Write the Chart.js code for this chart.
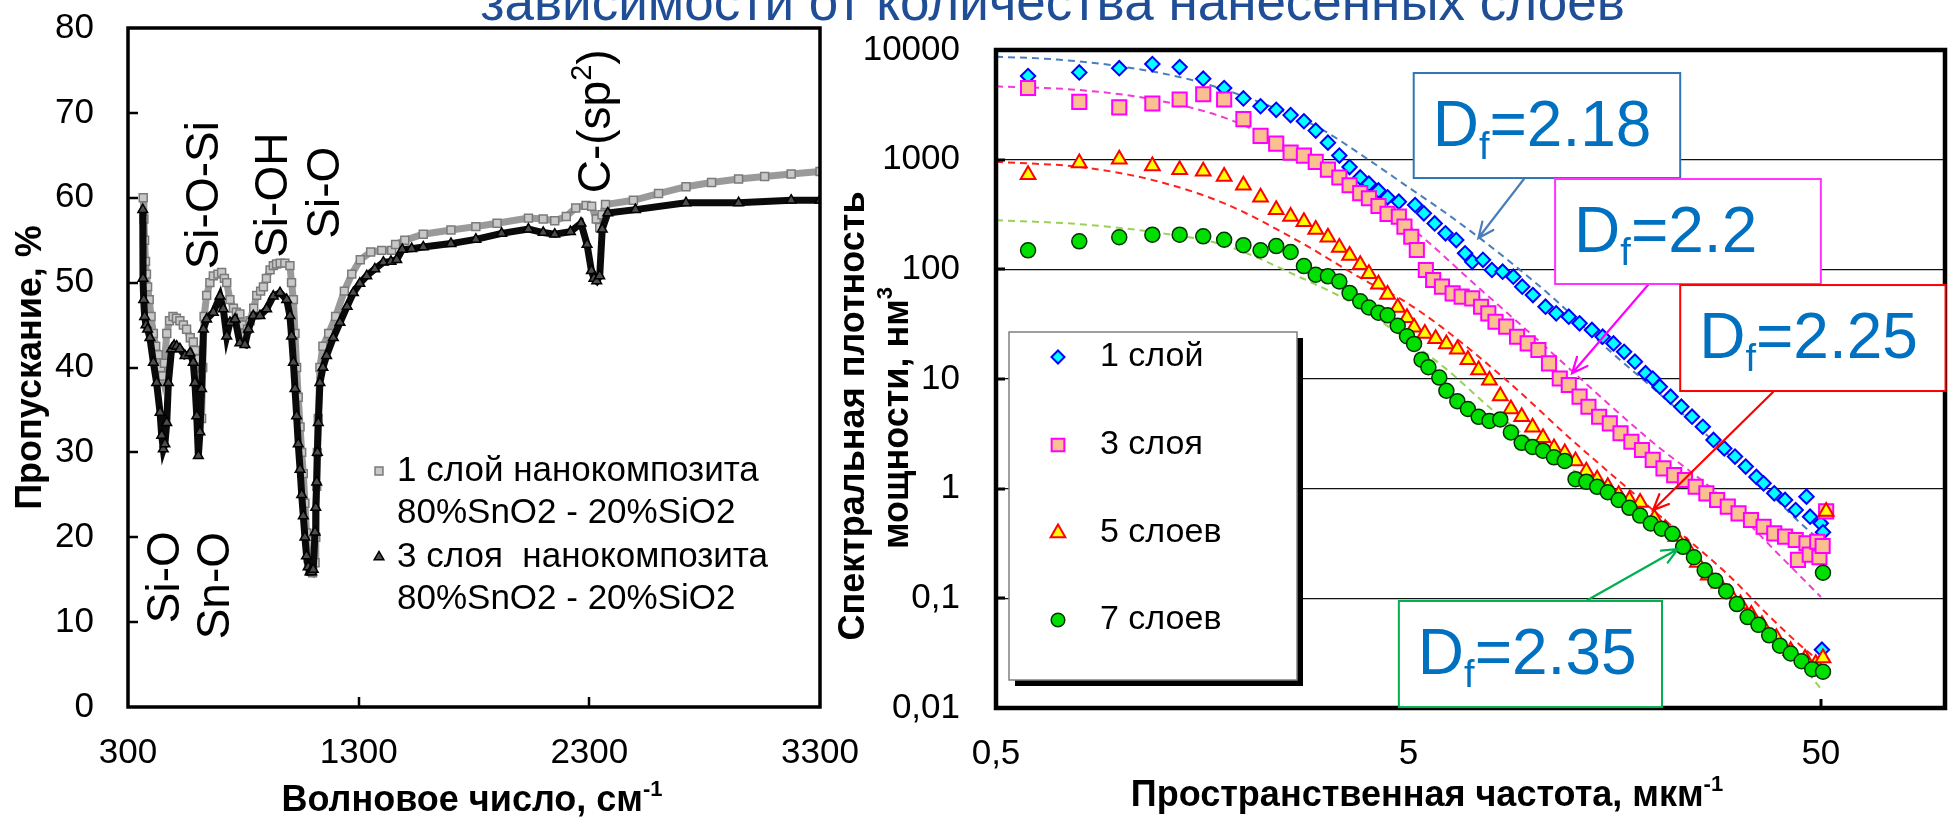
<!DOCTYPE html>
<html lang="ru"><head><meta charset="utf-8">
<title>ИК-спектры и СПМ</title>
<script src="https://cdn.jsdelivr.net/npm/chart.js"></script>
<style>
  html,body{margin:0;padding:0;background:#fff;}
  body{width:1957px;height:818px;position:relative;overflow:hidden;font-family:"Liberation Sans",Arial,sans-serif;}
  canvas{position:absolute;left:0;top:0;}
  #pageTitle{position:absolute;left:0;top:-25px;width:2105px;text-align:center;font-size:53px;line-height:53px;color:#1f4e96;white-space:nowrap;}
</style></head>
<body>
<div id="pageTitle">зависимости от количества нанесенных слоев</div>
<canvas id="ftir" width="1957" height="818"></canvas>
<canvas id="psd" width="1957" height="818"></canvas>
<script>
const FONT = '"Liberation Sans", Arial, sans-serif';

// ---------- left chart: FTIR transmission ----------
const ftirSeriesNames = ['1 слой нанокомпозита', '3 слоя  нанокомпозита'];
const ftirSeriesSub = '80%SnO2 - 20%SiO2';
const ftirXTicks = [300, 1300, 2300, 3300];

const ftirWn1 = [366,369,372,376,380,385,392,400,410,420,431,442,450,458,468,480,495,510,525,540,554,570,583,592,598,605,612,619,624,630,641,655,670,690,706,718,728,742,757,770,785,800,807,818,829,845,858,875,887,900,916,930,944,960,980,1002,1009,1017,1024,1031,1038,1046,1053,1060,1067,1074,1081,1089,1100,1111,1114,1118,1121,1125,1132,1145,1170,1200,1238,1270,1307,1352,1400,1443,1460,1500,1580,1700,1808,1900,2036,2100,2150,2200,2241,2286,2310,2330,2345,2355,2370,2491,2600,2719,2830,2947,3060,3175,3300];
const ftirT1 = [60,57.5,55,52.5,51,49.5,48,46,44,42.5,41.5,40,39,40.5,44,45.5,46,45.8,45.5,45,44.5,43.5,43,42,41,39,37,34,40,46,48.5,50,50.8,51,51.2,50.5,50,48,47,46.5,46.3,45,44,44.5,45.5,47,48.5,49,49.5,50.5,51.5,52,52.2,52.3,52.3,52,50,48,44,40,36.5,33,30,27.5,24,20.5,17.5,16,15.8,17,20,26,30,34,40,42.5,44,46,49,51,52.7,53.6,53.8,53.8,54.5,55,55.7,56.2,56.6,57,57.6,57.5,57.3,57.8,58.8,59.1,59,57.5,56.5,58,59.2,59.7,60.5,61.3,61.8,62.2,62.5,62.8,63.1];

const ftirWn3 = [364,365,368,372,378,385,395,410,424,439,446,453,460,468,475,489,500,511,525,547,569,583,590,598,605,612,619,627,641,670,699,713,728,742,764,785,807,822,843,872,901,930,959,988,1002,1009,1017,1024,1031,1038,1046,1053,1060,1067,1074,1081,1089,1096,1103,1111,1114,1118,1121,1125,1132,1145,1161,1190,1219,1250,1277,1305,1335,1370,1407,1440,1465,1489,1530,1580,1700,1808,1920,2036,2100,2150,2218,2264,2290,2309,2320,2332,2345,2356,2380,2500,2719,2947,3175,3300];
const ftirT3 = [58.6,50.5,48,46,45,44.5,43.5,40.6,38.2,34.7,32,30.4,31,33.5,38.2,42.2,42.6,42.5,42.2,41.4,41.7,40.6,38.2,34.3,29.6,32.4,37.5,44.5,45.7,46.5,48.4,46.9,43.7,45.3,45.7,42.9,42.7,44.5,46.1,46.1,46.9,48.4,48.8,48,46.1,43.7,40.6,37.5,34.3,31,28,25,22.5,20,17.8,16.5,15.9,15.9,16.2,20.6,23.5,26.5,30,33.5,38.2,40,41.4,43.5,45.3,47.2,48.8,49.9,50.8,51.6,52.4,52.5,52.7,53.9,54,54.2,54.6,55.1,55.8,56.3,55.9,55.7,56,57,54.5,51.4,50.5,50.2,50.8,56.3,58.2,58.6,59.4,59.4,59.7,59.7];

// ---------- right chart: power spectral density ----------
const psdNames = ['1 слой', '3 слоя', '5 слоев', '7 слоев'];
const psdYTickValues = [0.01, 0.1, 1, 10, 100, 1000, 10000];
const psdYTickLabels = ['0,01', '0,1', '1', '10', '100', '1000', '10000'];
const psdXTickValues = [0.5, 5, 50];
const psdXTickLabels = ['0,5', '5', '50'];
const dfValues = ['2.18', '2.2', '2.25', '2.35'];

const psdF1 = [0.598,0.796,0.995,1.197,1.394,1.59,1.787,1.99,2.19,2.39,2.59,2.79,2.98,3.19,3.40,3.60,3.82,4.01,4.23,4.45,4.74,5.19,5.45,5.79,6.15,6.53,6.86,7.14,7.58,7.97,8.46,8.98,9.44,10.02,10.75,11.41,12.24,13.0,13.93,14.79,15.71,16.67,17.71,18.79,19.56,20.35,21.61,22.95,24.36,25.87,27.46,29.16,30.96,32.87,34.89,36.32,38.55,40.94,43.45,46.15,47.09,49.97,50.6,50.3];
const psdP1 = [5790,6250,6820,7450,6980,5480,4500,3620,3070,2850,2550,2240,1840,1430,1090,856,688,604,524,454,414,386,324,262,213,185,140,117,122,98.6,95.1,85.7,69.5,58.3,45.6,39.7,37.0,32.2,28.0,24.3,21.1,17.7,14.4,11.3,10.1,8.51,6.90,5.59,4.53,3.67,2.78,2.33,1.96,1.59,1.28,1.12,0.908,0.789,0.639,0.846,0.555,0.483,0.40,0.034];

const psdF3 = [0.598,0.796,0.995,1.197,1.394,1.59,1.787,1.99,2.19,2.39,2.59,2.79,2.98,3.19,3.40,3.60,3.82,4.01,4.23,4.45,4.74,4.89,5.08,5.24,5.51,5.74,6.03,6.40,6.73,7.14,7.50,7.81,8.13,8.63,9.17,9.73,10.33,10.96,11.64,12.24,13.0,13.66,14.50,15.39,16.34,17.36,18.42,19.56,20.77,22.05,23.41,24.86,26.39,28.02,29.74,31.58,33.85,36.32,38.55,40.94,43.45,44.0,46.15,47.0,49.0,49.6,50.5,51.5];
const psdP3 = [4500,3360,3000,3250,3540,3950,3540,2340,1650,1400,1160,1090,955,811,688,584,496,445,378,320,302,245,198,150,98.6,80,69.5,60.4,56.3,54.4,45.6,39.7,33.3,30.0,24.3,21.1,18.4,13.9,10.1,8.81,6.90,5.59,4.53,3.94,3.20,2.68,2.25,1.83,1.53,1.33,1.20,1.04,0.907,0.789,0.686,0.596,0.518,0.450,0.391,0.365,0.340,0.224,0.318,0.25,0.328,0.237,0.30,0.62];

const psdF5 = [0.598,0.796,0.995,1.197,1.394,1.59,1.787,1.99,2.19,2.39,2.59,2.79,2.98,3.19,3.40,3.60,3.82,4.01,4.23,4.45,4.71,4.96,5.16,5.48,5.82,6.18,6.57,6.97,7.40,7.86,8.35,8.86,9.41,10.0,10.6,11.27,11.97,12.71,13.5,14.34,15.22,16.17,17.17,18.23,19.75,20.97,22.27,23.65,25.1,26.67,28.31,30.07,31.93,33.91,36.0,39.0,42.25,45.8,48.6,50.6,51.5];
const psdP5 = [727,934,1009,875,811,785,704,584,454,350,303,272,231,196,158,134,110,91.2,73.3,58.9,44.9,36.1,29.6,26.0,23.3,20.9,18.7,15.0,12.1,9.72,7.00,5.33,4.52,3.64,2.92,2.35,2.11,1.79,1.44,1.22,1.04,0.879,0.788,0.746,0.538,0.432,0.367,0.295,0.212,0.162,0.137,0.110,0.0887,0.0713,0.0573,0.0436,0.0332,0.0282,0.0253,0.0286,0.62];

const psdF7 = [0.598,0.796,0.995,1.197,1.394,1.59,1.787,1.99,2.19,2.39,2.59,2.79,2.98,3.19,3.40,3.60,3.82,4.01,4.23,4.45,4.71,4.96,5.16,5.38,5.59,5.94,6.18,6.57,6.97,7.40,7.86,8.35,8.86,9.41,10.0,10.6,11.27,11.97,12.71,13.5,14.34,15.22,16.17,17.17,18.23,19.35,20.55,21.83,23.18,24.62,26.14,27.75,29.47,31.29,33.22,35.29,37.47,39.8,42.25,44.9,47.66,50.6,50.6];
const psdP7 = [149,180,196,207,207,200,186,166,149,163,144,107,89.3,86.4,77.4,60.9,51.1,44.9,40.2,38.1,30.6,24.6,20.9,15.0,12.8,10.3,7.81,6.28,5.33,4.52,4.15,4.28,3.26,2.62,2.40,2.22,1.93,1.79,1.22,1.155,1.04,0.928,0.788,0.669,0.568,0.482,0.432,0.388,0.295,0.237,0.180,0.145,0.116,0.0887,0.0675,0.0573,0.046,0.037,0.0314,0.0267,0.0226,0.0214,0.171];

// dashed model curves
const fitF1 = [0.5,0.7,1.0,1.5,2.2,3.0,4.0,5.0,6.0,7.35,9.0,11.4,14.5,19.2,25.9,34.9,46.2,50];
const fitP1 = [8700,8200,7100,5300,3300,2000,1000,560,350,200,110,52,22,8.8,3.3,1.2,0.43,0.34];
const fitF3 = [0.5,0.8,1.2,1.79,2.67,3.98,5.0,7.5,10,12.5,19.2,28.6,40,50];
const fitP3 = [4660,4310,3540,2415,1190,445,250,65,25,11.7,2.8,0.85,0.24,0.103];
const fitF5 = [0.5,0.8,1.2,1.79,2.67,3.98,4.74,6,8.63,12.3,19.2,30,37.3,44,50];
const fitP5 = [955,856,651,399,186,77,55,30,9.8,2.9,0.68,0.16,0.07,0.039,0.026];
const fitF7 = [0.5,0.8,1.2,1.79,2.67,3.7,4.86,6.15,8,10,13,17,22,30,40,45,50];
const fitP7 = [281,258,219,166,88,48,24,12.5,5.2,2.7,1.35,0.68,0.36,0.12,0.036,0.024,0.015];

// ---------- helpers ----------
const xy = (xs, ys) => xs.map((x, i) => ({x: x, y: ys[i]}));

function drawRich(ctx, parts, x, y, opts) {
  opts = opts || {};
  ctx.save();
  ctx.translate(x, y);
  if (opts.rotate) ctx.rotate(opts.rotate);
  ctx.textBaseline = 'alphabetic';
  ctx.textAlign = 'left';
  ctx.fillStyle = opts.color || '#000';
  const fontOf = p => (p.bold ? 'bold ' : '') + p.size + 'px ' + FONT;
  let total = 0;
  for (const p of parts) { ctx.font = fontOf(p); p.w = ctx.measureText(p.t).width; total += p.w; }
  let cx = opts.align === 'left' ? 0 : -total / 2;
  for (const p of parts) { ctx.font = fontOf(p); ctx.fillText(p.t, cx, p.dy || 0); cx += p.w; }
  ctx.restore();
}

function drawMarker(ctx, style, x, y, r, fill, stroke, bw) {
  ctx.save();
  ctx.beginPath();
  if (style === 'rect') {
    const s = Math.SQRT1_2 * r;
    ctx.rect(x - s, y - s, 2 * s, 2 * s);
  } else if (style === 'rectRot') {
    ctx.moveTo(x - r, y); ctx.lineTo(x, y - r); ctx.lineTo(x + r, y); ctx.lineTo(x, y + r); ctx.closePath();
  } else if (style === 'triangle') {
    let a = 0;
    ctx.moveTo(x + Math.sin(a) * r, y - Math.cos(a) * r);
    a += 2 * Math.PI / 3; ctx.lineTo(x + Math.sin(a) * r, y - Math.cos(a) * r);
    a += 2 * Math.PI / 3; ctx.lineTo(x + Math.sin(a) * r, y - Math.cos(a) * r);
    ctx.closePath();
  } else {
    ctx.arc(x, y, r, 0, Math.PI * 2);
  }
  ctx.fillStyle = fill; ctx.fill();
  ctx.lineWidth = bw; ctx.strokeStyle = stroke; ctx.stroke();
  ctx.restore();
}

function arrow(ctx, x1, y1, x2, y2, color) {
  const ang = Math.atan2(y2 - y1, x2 - x1), len = 17, spr = 0.42;
  ctx.save();
  ctx.strokeStyle = color; ctx.lineWidth = 2.2; ctx.lineCap = 'round';
  ctx.beginPath();
  ctx.moveTo(x1, y1); ctx.lineTo(x2, y2);
  ctx.moveTo(x2 - len * Math.cos(ang - spr), y2 - len * Math.sin(ang - spr));
  ctx.lineTo(x2, y2);
  ctx.lineTo(x2 - len * Math.cos(ang + spr), y2 - len * Math.sin(ang + spr));
  ctx.stroke();
  ctx.restore();
}

// ---------- left chart ----------
const ftirStyles = [
  {style: 'rect', r: 5.6, fill: '#c8c8c8', stroke: '#7a7a7a', bw: 1.5, line: '#9a9a9a'},
  {style: 'triangle', r: 5.6, fill: '#4d4d4d', stroke: '#000', bw: 1.5, line: '#0a0a0a'}
];

const ftirDecor = {
  id: 'ftirDecor',
  afterDraw(chart) {
    const ctx = chart.ctx, a = chart.chartArea, x = chart.scales.x, y = chart.scales.y;
    ctx.save();
    ctx.strokeStyle = '#000'; ctx.lineWidth = 2.5;
    ctx.beginPath();
    for (let v = 10; v < 80; v += 10) { const py = Math.round(y.getPixelForValue(v)); ctx.moveTo(a.left, py); ctx.lineTo(a.left + 10, py); }
    for (const v of ftirXTicks.slice(1, -1)) { const px = Math.round(x.getPixelForValue(v)); ctx.moveTo(px, a.bottom); ctx.lineTo(px, a.bottom - 10); }
    ctx.stroke();
    ctx.lineWidth = 3.5;
    ctx.strokeRect(a.left, a.top, a.right - a.left, a.bottom - a.top);

    // band labels, rotated, anchored in data coordinates
    const rot = -Math.PI / 2;
    const band = (parts, wn, t) => drawRich(ctx, parts, x.getPixelForValue(wn), y.getPixelForValue(t), {rotate: rot});
    band([{t: 'Si-O', size: 46}], 521, 15.3);
    band([{t: 'Sn-O', size: 46}], 738, 14.3);
    band([{t: 'Si-O-Si', size: 46}], 690, 60.3);
    band([{t: 'Si-OH', size: 46}], 989, 60.3);
    band([{t: 'Si-O', size: 46}], 1215, 60.6);
    band([{t: 'C-(sp', size: 46}, {t: '2', size: 29, dy: -19}, {t: ')', size: 46}], 2390, 69.0);

    // legend
    const lx = a.left + 251, tx = a.left + 269;
    const rows = [a.top + 443, a.top + 485, a.top + 529, a.top + 571];
    ctx.font = '35px ' + FONT; ctx.fillStyle = '#000'; ctx.textBaseline = 'middle'; ctx.textAlign = 'left';
    for (let i = 0; i < 2; i++) {
      const s = ftirStyles[i];
      drawMarker(ctx, s.style, lx, rows[2 * i], s.r, s.fill, s.stroke, s.bw);
      ctx.fillStyle = '#000';
      ctx.fillText(ftirSeriesNames[i], tx, rows[2 * i]);
      ctx.fillText(ftirSeriesSub, tx, rows[2 * i + 1]);
    }

    // axis titles
    drawRich(ctx, [{t: 'Волновое число, см', size: 36, bold: true}, {t: '-1', size: 22, bold: true, dy: -15}], (a.left + a.right) / 2 - 2, 811);
    drawRich(ctx, [{t: 'Пропускание, %', size: 36, bold: true}], 41, (a.top + a.bottom) / 2, {rotate: rot});
    ctx.restore();
  }
};

new Chart(document.getElementById('ftir'), {
  type: 'scatter',
  data: {
    datasets: [
      {label: ftirSeriesNames[0], data: xy(ftirWn1, ftirT1), showLine: true, borderColor: ftirStyles[0].line, borderWidth: 7,
       pointStyle: 'rect', pointRadius: ftirStyles[0].r, pointBackgroundColor: ftirStyles[0].fill, pointBorderColor: ftirStyles[0].stroke, pointBorderWidth: 1.5, order: 2},
      {label: ftirSeriesNames[1], data: xy(ftirWn3, ftirT3), showLine: true, borderColor: ftirStyles[1].line, borderWidth: 7,
       pointStyle: 'triangle', pointRadius: ftirStyles[1].r, pointBackgroundColor: ftirStyles[1].fill, pointBorderColor: ftirStyles[1].stroke, pointBorderWidth: 1.5, order: 1}
    ]
  },
  options: {
    responsive: false, animation: false, events: [],
    layout: {padding: {left: 8, top: 28, right: 1957 - 820, bottom: 0}},
    plugins: {legend: {display: false}, tooltip: {enabled: false}},
    scales: {
      x: {type: 'linear', min: 300, max: 3300,
          afterBuildTicks(s) { s.ticks = ftirXTicks.map(v => ({value: v})); },
          ticks: {callback: v => String(v), font: {family: FONT, size: 35}, color: '#000', padding: 25, maxRotation: 0, autoSkip: false},
          grid: {display: false, drawTicks: false}, border: {display: false},
          afterFit(s) { s.height = 111; s.paddingLeft = 0; s.paddingRight = 0; }},
      y: {type: 'linear', min: 0, max: 80,
          ticks: {stepSize: 10, callback: v => String(v), font: {family: FONT, size: 35}, color: '#000', padding: 34},
          grid: {display: false, drawTicks: false}, border: {display: false},
          afterFit(s) { s.width = 120; s.paddingTop = 0; s.paddingBottom = 0; }}
    }
  },
  plugins: [ftirDecor]
});

// ---------- right chart ----------
const psdStyles = [
  {style: 'rectRot', r: 7.2, fill: '#00ffff', stroke: '#0000ff', bw: 2, fit: '#4a7ebb', lr: 6.5},
  {style: 'rect', r: 10, fill: '#fac090', stroke: '#ff00ff', bw: 2, fit: '#f03cd0', lr: 9},
  {style: 'triangle', r: 8.5, fill: '#ffff00', stroke: '#ff0000', bw: 2, fit: '#ff2020', lr: 8.5},
  {style: 'circle', r: 7.5, fill: '#00e000', stroke: '#003300', bw: 1.5, fit: '#9bd05a', lr: 6.8}
];
const dfBoxes = [
  {color: '#2e75b6', arrowColor: '#4a7ebb', f0: 5.15, p0: 6166, f1: 22.8, p1: 680, af: 9.53, ap: 666, tf: 7.39, tp: 193},
  {color: '#ff33ff', arrowColor: '#ff00ff', f0: 11.34, p0: 666, f1: 50, p1: 73.5, af: 19.05, ap: 71.9, tf: 12.47, tp: 11.3},
  {color: '#ff0000', arrowColor: '#ff0000', f0: 22.8, p0: 71.9, f1: 100.3, p1: 7.77, af: 38.3, ap: 7.61, tf: 19.6, tp: 0.639},
  {color: '#00b050', arrowColor: '#00b050', f0: 4.74, p0: 0.0946, f1: 20.6, p1: 0.0102, af: 13.6, ap: 0.0966, tf: 22.5, tp: 0.282}
];

const labelFor = (vals, labs) => v => {
  for (let i = 0; i < vals.length; i++) if (Math.abs(Math.log10(v) - Math.log10(vals[i])) < 1e-6) return labs[i];
  return '';
};

const psdDecor = {
  id: 'psdDecor',
  afterDraw(chart) {
    const ctx = chart.ctx, a = chart.chartArea, x = chart.scales.x, y = chart.scales.y;
    ctx.save();
    // inner ticks
    ctx.strokeStyle = '#000'; ctx.lineWidth = 3;
    ctx.beginPath();
    for (const v of psdYTickValues.slice(1, -1)) { const py = Math.round(y.getPixelForValue(v)); ctx.moveTo(a.left, py); ctx.lineTo(a.left + 9, py); }
    for (const v of psdXTickValues.slice(1)) { const px = Math.round(x.getPixelForValue(v)); ctx.moveTo(px, a.bottom); ctx.lineTo(px, a.bottom - 9); }
    ctx.stroke();
    // frame
    ctx.lineWidth = 4.5;
    ctx.strokeRect(a.left, a.top, a.right - a.left, a.bottom - a.top);

    // legend with shadow
    const bx = a.left + 13, by = a.top + 282, bw = 288, bh = 348;
    ctx.fillStyle = '#000'; ctx.fillRect(bx + 6, by + 6, bw, bh);
    ctx.fillStyle = '#fff'; ctx.fillRect(bx, by, bw, bh);
    ctx.strokeStyle = '#808080'; ctx.lineWidth = 1.5; ctx.strokeRect(bx, by, bw, bh);
    const rows = [a.top + 307, a.top + 395, a.top + 483, a.top + 570];
    ctx.font = '34px ' + FONT; ctx.textBaseline = 'middle'; ctx.textAlign = 'left';
    for (let i = 0; i < 4; i++) {
      const s = psdStyles[i];
      drawMarker(ctx, s.style, a.left + 62, rows[i], s.lr, s.fill, s.stroke, s.bw);
      ctx.fillStyle = '#000';
      ctx.fillText(psdNames[i], a.left + 104, rows[i]);
    }

    // fractal dimension boxes with arrows
    dfBoxes.forEach((b, i) => {
      const l = x.getPixelForValue(b.f0), t = y.getPixelForValue(b.p0);
      const r = x.getPixelForValue(b.f1), btm = y.getPixelForValue(b.p1);
      arrow(ctx, x.getPixelForValue(b.af), y.getPixelForValue(b.ap), x.getPixelForValue(b.tf), y.getPixelForValue(b.tp), b.arrowColor);
      ctx.fillStyle = '#fff'; ctx.fillRect(l, t, r - l, btm - t);
      ctx.strokeStyle = b.color; ctx.lineWidth = 2; ctx.strokeRect(l, t, r - l, btm - t);
      drawRich(ctx, [{t: 'D', size: 64}, {t: 'f', size: 38, dy: 13}, {t: '=' + dfValues[i], size: 64}], l + 19, t + 73, {align: 'left', color: '#0070c0'});
    });

    // axis titles
    drawRich(ctx, [{t: 'Пространственная частота, мкм', size: 36, bold: true}, {t: '-1', size: 22, bold: true, dy: -15}], a.left + 431, 806);
    const rot = -Math.PI / 2;
    drawRich(ctx, [{t: 'Спектральная плотность', size: 36, bold: true}], 864, a.top + 366, {rotate: rot});
    drawRich(ctx, [{t: 'мощности, нм', size: 36, bold: true}, {t: '3', size: 22, bold: true, dy: -16}], 908, a.top + 368, {rotate: rot});
    ctx.restore();
  }
};

const psdSeries = [[psdF1, psdP1], [psdF3, psdP3], [psdF5, psdP5], [psdF7, psdP7]];
const fitSeries = [[fitF1, fitP1], [fitF3, fitP3], [fitF5, fitP5], [fitF7, fitP7]];
const psdDatasets = [];
fitSeries.forEach((fs, i) => psdDatasets.push({
  label: 'fit ' + psdNames[i], data: xy(fs[0], fs[1]), showLine: true, pointRadius: 0,
  borderColor: psdStyles[i].fit, borderWidth: 2, borderDash: [7, 5], cubicInterpolationMode: 'monotone', order: 10
}));
psdSeries.forEach((ps, i) => psdDatasets.push({
  label: psdNames[i], data: xy(ps[0], ps[1]), showLine: false,
  pointStyle: psdStyles[i].style, pointRadius: psdStyles[i].r, pointBackgroundColor: psdStyles[i].fill,
  pointBorderColor: psdStyles[i].stroke, pointBorderWidth: psdStyles[i].bw, order: 4 - i
}));

new Chart(document.getElementById('psd'), {
  type: 'scatter',
  data: {datasets: psdDatasets},
  options: {
    responsive: false, animation: false, events: [],
    layout: {padding: {left: 846, top: 50, right: 10, bottom: 0}},
    plugins: {legend: {display: false}, tooltip: {enabled: false}},
    scales: {
      x: {type: 'logarithmic', min: 0.5, max: 100,
          afterBuildTicks(s) { s.ticks = psdXTickValues.map(v => ({value: v})); },
          ticks: {callback: labelFor(psdXTickValues, psdXTickLabels), font: {family: FONT, size: 35}, color: '#000', padding: 25, maxRotation: 0, autoSkip: false},
          grid: {display: false, drawTicks: false}, border: {display: false},
          afterFit(s) { s.height = 110; s.paddingLeft = 0; s.paddingRight = 0; }},
      y: {type: 'logarithmic', min: 0.01, max: 10000,
          afterBuildTicks(s) { s.ticks = psdYTickValues.map(v => ({value: v})); },
          ticks: {callback: labelFor(psdYTickValues, psdYTickLabels), font: {family: FONT, size: 35}, color: '#000', padding: 36, autoSkip: false},
          grid: {drawTicks: false, lineWidth: 1.2,
                 color: c => (c.tick && c.tick.value > 0.011 && c.tick.value < 9999) ? '#111' : 'rgba(0,0,0,0)'},
          border: {display: false},
          afterFit(s) { s.width = 150; s.paddingTop = 0; s.paddingBottom = 0; }}
    }
  },
  plugins: [psdDecor]
});
</script>
</body></html>
